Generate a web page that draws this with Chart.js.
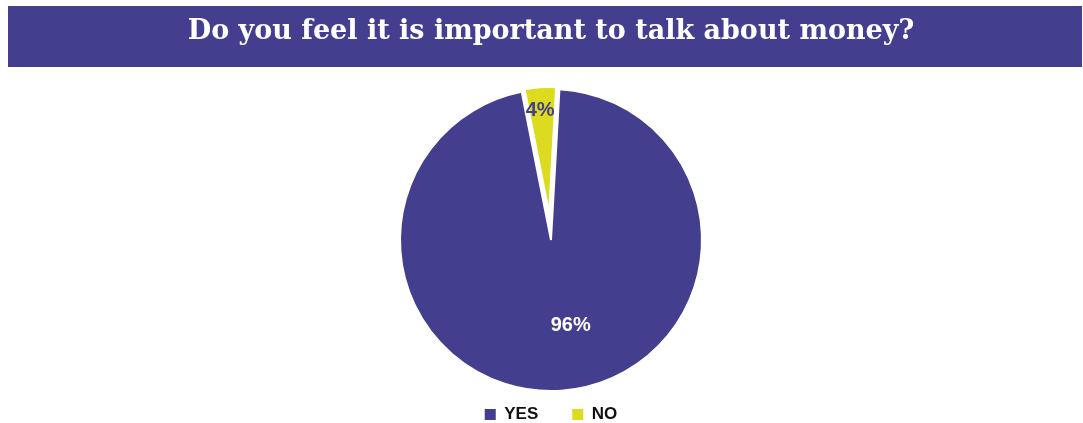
<!DOCTYPE html>
<html>
<head>
<meta charset="utf-8">
<title>Money survey</title>
<script src="https://cdn.jsdelivr.net/npm/chart.js@4.4.1/dist/chart.umd.min.js"></script>
<style>
  html, body { margin: 0; padding: 0; background: #fff; }
  #wrap { position: relative; width: 1083px; height: 423px; }
</style>
</head>
<body>
<div id="wrap"><canvas id="canvas"></canvas></div>
<script>
  // survey answers
  const question = 'Do you feel it is important to talk about money?';
  const answers = ['YES', 'NO'];
  const shares = [96, 4];
  const shareLabels = ['96%', '4%'];

  const purple = '#433E8E';
  const yellow = '#DCDB1F';

  // purple band behind the title
  const titleBar = {
    id: 'titleBar',
    beforeDraw(chart) {
      const c = chart.ctx;
      c.save();
      c.fillStyle = purple;
      c.fillRect(8, 6, chart.width - 9, 61);
      c.restore();
    }
  };

  // pull one slice out of the pie and draw it a bit smaller
  const explode = {
    id: 'explode',
    afterDatasetsUpdate(chart, args, opts) {
      const arc = chart.getDatasetMeta(0).data[opts.index];
      if (!arc) return;
      const mid = (arc.startAngle + arc.endAngle) / 2;
      arc.x += Math.cos(mid) * opts.distance;
      arc.y += Math.sin(mid) * opts.distance;
      arc.outerRadius *= opts.radiusScale;
    }
  };

  // percentage text inside each slice
  const pieLabels = {
    id: 'pieLabels',
    afterDatasetsDraw(chart, args, opts) {
      const c = chart.ctx;
      const arcs = chart.getDatasetMeta(0).data;
      c.save();
      c.font = opts.font;
      c.textAlign = 'center';
      c.textBaseline = 'middle';
      arcs.forEach((arc, i) => {
        const p = opts.place[i];
        const a = (arc.startAngle + arc.endAngle) / 2 + p.turn * Math.PI / 180;
        const dist = arc.outerRadius * p.r;
        c.fillStyle = opts.colors[i];
        c.fillText(shareLabels[i], arc.x + Math.cos(a) * dist, arc.y + Math.sin(a) * dist);
      });
      c.restore();
    }
  };

  const ctx = document.getElementById('canvas').getContext('2d');

  const myChart = new Chart(ctx, {
    type: 'pie',
    data: {
      labels: answers,
      datasets: [{
        data: shares,
        backgroundColor: [purple, yellow],
        borderColor: '#ffffff',
        borderWidth: 2
      }]
    },
    options: {
      responsive: true,
      maintainAspectRatio: false,
      animation: false,
      rotation: 3.2,
      radius: 151,
      layout: { padding: { top: 6, left: 20, right: 1, bottom: -10 } },
      plugins: {
        title: {
          display: true,
          text: question,
          color: '#ffffff',
          font: { family: 'DejaVu Serif', size: 27, weight: 'bold', lineHeight: 1.2 },
          padding: { top: 10, bottom: 59.6 }
        },
        legend: {
          position: 'bottom',
          labels: {
            boxWidth: 11,
            boxHeight: 11,
            padding: 34,
            color: '#111111',
            font: { family: 'Liberation Sans', size: 17, weight: 'bold' },
            generateLabels(chart) {
              return Chart.overrides.pie.plugins.legend.labels.generateLabels(chart)
                .map(item => Object.assign(item, { lineWidth: 0 }));
            }
          }
        },
        tooltip: { enabled: false },
        explode: { index: 1, distance: 27, radiusScale: 0.835 },
        pieLabels: {
          font: 'bold 20px "Liberation Sans", Arial, sans-serif',
          colors: ['#ffffff', purple],
          place: [{ r: 0.58, turn: -9 }, { r: 0.82, turn: -1 }]
        }
      }
    },
    plugins: [titleBar, explode, pieLabels]
  });
</script>
</body>
</html>
